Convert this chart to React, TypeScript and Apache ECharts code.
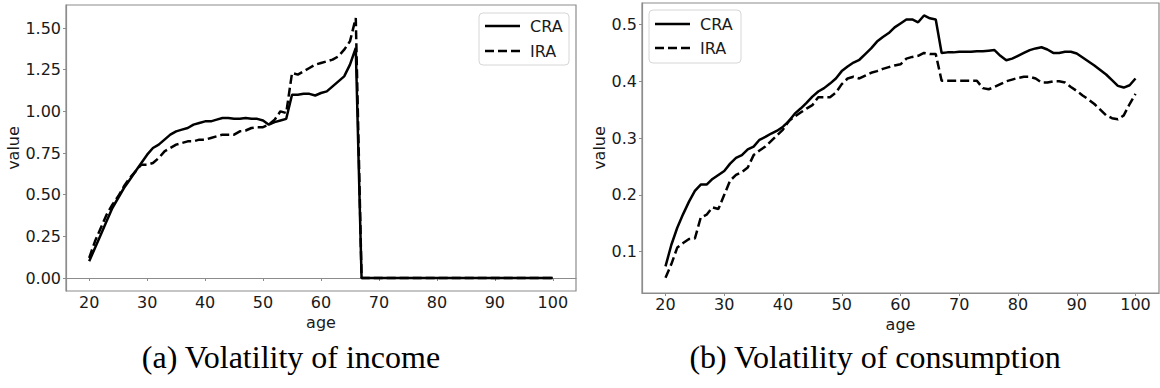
import React, { useEffect, useRef } from "react";
import * as echarts from "echarts";

const ages = [
  20, 21, 22, 23, 24, 25, 26, 27, 28, 29, 30, 31, 32, 33, 34, 35, 36, 37, 38, 39,
  40, 41, 42, 43, 44, 45, 46, 47, 48, 49, 50, 51, 52, 53, 54, 55, 56, 57, 58, 59,
  60, 61, 62, 63, 64, 65, 66, 67, 68, 69, 70, 71, 72, 73, 74, 75, 76, 77, 78, 79,
  80, 81, 82, 83, 84, 85, 86, 87, 88, 89, 90, 91, 92, 93, 94, 95, 96, 97, 98, 99, 100,
];

const incomeCRA = [
  0.10, 0.18, 0.26, 0.34, 0.42, 0.48, 0.54, 0.59, 0.64, 0.69, 0.74, 0.78, 0.80, 0.83, 0.86, 0.88, 0.89, 0.90, 0.92, 0.93,
  0.94, 0.94, 0.95, 0.96, 0.96, 0.955, 0.955, 0.96, 0.955, 0.955, 0.945, 0.92, 0.935, 0.945, 0.955, 1.10, 1.10, 1.105, 1.105, 1.095,
  1.11, 1.12, 1.15, 1.18, 1.21, 1.28, 1.38, 0, 0, 0, 0, 0, 0, 0, 0, 0, 0, 0, 0, 0,
  0, 0, 0, 0, 0, 0, 0, 0, 0, 0, 0, 0, 0, 0, 0, 0, 0, 0, 0, 0, 0,
];

const incomeIRA = [
  0.12, 0.22, 0.30, 0.38, 0.44, 0.49, 0.55, 0.60, 0.64, 0.68, 0.68, 0.69, 0.72, 0.76, 0.78, 0.80, 0.81, 0.82, 0.82, 0.83,
  0.83, 0.84, 0.85, 0.86, 0.86, 0.86, 0.88, 0.885, 0.90, 0.905, 0.905, 0.92, 0.95, 1.00, 0.99, 1.23, 1.22, 1.24, 1.26, 1.28,
  1.29, 1.30, 1.31, 1.33, 1.37, 1.42, 1.56, 0, 0, 0, 0, 0, 0, 0, 0, 0, 0, 0, 0, 0,
  0, 0, 0, 0, 0, 0, 0, 0, 0, 0, 0, 0, 0, 0, 0, 0, 0, 0, 0, 0, 0,
];

const consCRA = [
  0.074, 0.112, 0.142, 0.166, 0.188, 0.207, 0.218, 0.218, 0.228, 0.235, 0.242, 0.255, 0.265, 0.270, 0.280, 0.285, 0.297, 0.302, 0.308, 0.313,
  0.320, 0.330, 0.343, 0.352, 0.362, 0.373, 0.382, 0.388, 0.396, 0.405, 0.418, 0.426, 0.433, 0.438, 0.448, 0.458, 0.470, 0.478, 0.485, 0.495,
  0.502, 0.509, 0.509, 0.504, 0.516, 0.511, 0.509, 0.450, 0.451, 0.451, 0.452, 0.452, 0.452, 0.453, 0.453, 0.454, 0.455, 0.445, 0.437, 0.440,
  0.445, 0.450, 0.455, 0.458, 0.460, 0.456, 0.450, 0.450, 0.452, 0.452, 0.449, 0.442, 0.435, 0.428, 0.420, 0.412, 0.402, 0.392, 0.389, 0.393, 0.405,
];

const consIRA = [
  0.054, 0.078, 0.107, 0.115, 0.122, 0.123, 0.160, 0.165, 0.178, 0.175, 0.200, 0.225, 0.235, 0.240, 0.248, 0.270, 0.278, 0.285, 0.295, 0.305,
  0.315, 0.330, 0.338, 0.345, 0.352, 0.358, 0.372, 0.372, 0.372, 0.380, 0.395, 0.405, 0.408, 0.405, 0.410, 0.415, 0.418, 0.422, 0.425, 0.428,
  0.430, 0.440, 0.443, 0.445, 0.450, 0.448, 0.448, 0.401, 0.401, 0.401, 0.401, 0.401, 0.401, 0.401, 0.388, 0.386, 0.390, 0.395, 0.400, 0.403,
  0.406, 0.408, 0.408, 0.405, 0.398, 0.398, 0.400, 0.400, 0.398, 0.390, 0.383, 0.375, 0.368, 0.360, 0.350, 0.340, 0.335, 0.333, 0.340, 0.360, 0.378,
];

const xTicks = [20, 30, 40, 50, 60, 70, 80, 90, 100];
const yTicksIncome = [0, 0.25, 0.5, 0.75, 1.0, 1.25, 1.5];
const yTicksCons = [0.1, 0.2, 0.3, 0.4, 0.5];
const captions = ["(a) Volatility of income", "(b) Volatility of consumption"];
const seriesNames = ["CRA", "IRA"];

const pairs = (vals: number[]) => ages.map((a, i) => [a, vals[i]]);

const SPINE = "#8c8c8c";
const TXT = "#1a1a1a";
const SANS = "DejaVu Sans";
const DASH = [9, 4];

function xAxisCfg(gridIndex: number, nameGap: number) {
  return {
    type: "value",
    gridIndex,
    min: 16,
    max: 104,
    name: "age",
    nameLocation: "middle",
    nameGap,
    nameTextStyle: { fontFamily: SANS, fontSize: 16, color: TXT },
    splitLine: { show: false },
    axisLine: { show: true, lineStyle: { color: SPINE, width: 1.2 } },
    axisTick: { show: true, length: 3, customValues: xTicks, lineStyle: { color: SPINE } },
    axisLabel: { customValues: xTicks, fontFamily: SANS, fontSize: 16, color: TXT, margin: 3 },
  };
}

function yAxisCfg(gridIndex: number, min: number, max: number, ticks: number[], digits: number, nameGap: number) {
  return {
    type: "value",
    gridIndex,
    min,
    max,
    name: "value",
    nameLocation: "middle",
    nameGap,
    nameRotate: 90,
    nameTextStyle: { fontFamily: SANS, fontSize: 16, color: TXT },
    splitLine: { show: false },
    axisLine: { show: true, lineStyle: { color: SPINE, width: 1.2 } },
    axisTick: { show: true, length: 3, customValues: ticks, lineStyle: { color: SPINE } },
    axisLabel: {
      customValues: ticks,
      fontFamily: SANS,
      fontSize: 16,
      color: TXT,
      margin: 5,
      formatter: (v: number) => v.toFixed(digits),
    },
  };
}

function lineSeries(name: string, idx: number, vals: number[], dashed: boolean) {
  return {
    type: "line",
    name,
    xAxisIndex: idx,
    yAxisIndex: idx,
    data: pairs(vals),
    symbol: "none",
    showSymbol: false,
    lineStyle: { color: "#000", width: 2.5, type: dashed ? DASH : "solid" },
    itemStyle: { color: "#000" },
  };
}

function legendGraphic(x: number, y: number, w: number, h: number, row1: number, row2: number) {
  const lx = x + 6;
  const tx = x + 51;
  return {
    type: "group",
    children: [
      {
        type: "rect",
        shape: { x, y, width: w, height: h, r: 4 },
        style: { fill: "#fff", stroke: "#d6d6d6", lineWidth: 1 },
      },
      {
        type: "line",
        shape: { x1: lx, y1: row1, x2: lx + 35, y2: row1 },
        style: { stroke: "#000", lineWidth: 2.5 },
      },
      {
        type: "line",
        shape: { x1: lx, y1: row2, x2: lx + 35, y2: row2 },
        style: { stroke: "#000", lineWidth: 2.5, lineDash: DASH },
      },
      {
        type: "text",
        x: tx,
        y: row1,
        style: { text: seriesNames[0], fontFamily: SANS, fontSize: 16, fill: TXT, verticalAlign: "middle" },
      },
      {
        type: "text",
        x: tx,
        y: row2,
        style: { text: seriesNames[1], fontFamily: SANS, fontSize: 16, fill: TXT, verticalAlign: "middle" },
      },
    ],
  };
}

export default function App() {
  const ref = useRef<HTMLDivElement>(null);
  useEffect(() => {
    document.body.style.margin = "0";
    const chart = echarts.init(ref.current!, null, { renderer: "svg" });
    chart.setOption({
      animation: false,
      backgroundColor: "#fff",
      grid: [
        { left: 66, top: 5, width: 510, height: 286, show: true, borderColor: SPINE, borderWidth: 1.2, containLabel: false },
        { left: 642, top: 3, width: 517, height: 290, show: true, borderColor: SPINE, borderWidth: 1.2, containLabel: false },
      ],
      xAxis: [xAxisCfg(0, 18), xAxisCfg(1, 20)],
      yAxis: [
        yAxisCfg(0, -0.078, 1.638, yTicksIncome, 2, 42),
        yAxisCfg(1, 0.027, 0.538, yTicksCons, 1, 35),
      ],
      series: [
        lineSeries(seriesNames[0], 0, incomeCRA, false),
        lineSeries(seriesNames[1], 0, incomeIRA, true),
        lineSeries(seriesNames[0], 1, consCRA, false),
        lineSeries(seriesNames[1], 1, consIRA, true),
      ],
      graphic: [
        legendGraphic(479, 13, 90, 52, 26, 51),
        legendGraphic(649, 10, 92, 53, 24, 48),
        {
          type: "text",
          x: 291,
          y: 357,
          style: {
            text: captions[0],
            fontFamily: "Liberation Serif",
            fontSize: 32,
            fill: "#000",
            align: "center",
            verticalAlign: "middle",
          },
        },
        {
          type: "text",
          x: 875,
          y: 357,
          style: {
            text: captions[1],
            fontFamily: "Liberation Serif",
            fontSize: 32,
            fill: "#000",
            align: "center",
            verticalAlign: "middle",
          },
        },
      ],
    });
    return () => chart.dispose();
  }, []);
  return <div ref={ref} style={{ width: 1160, height: 388 }} />;
}
